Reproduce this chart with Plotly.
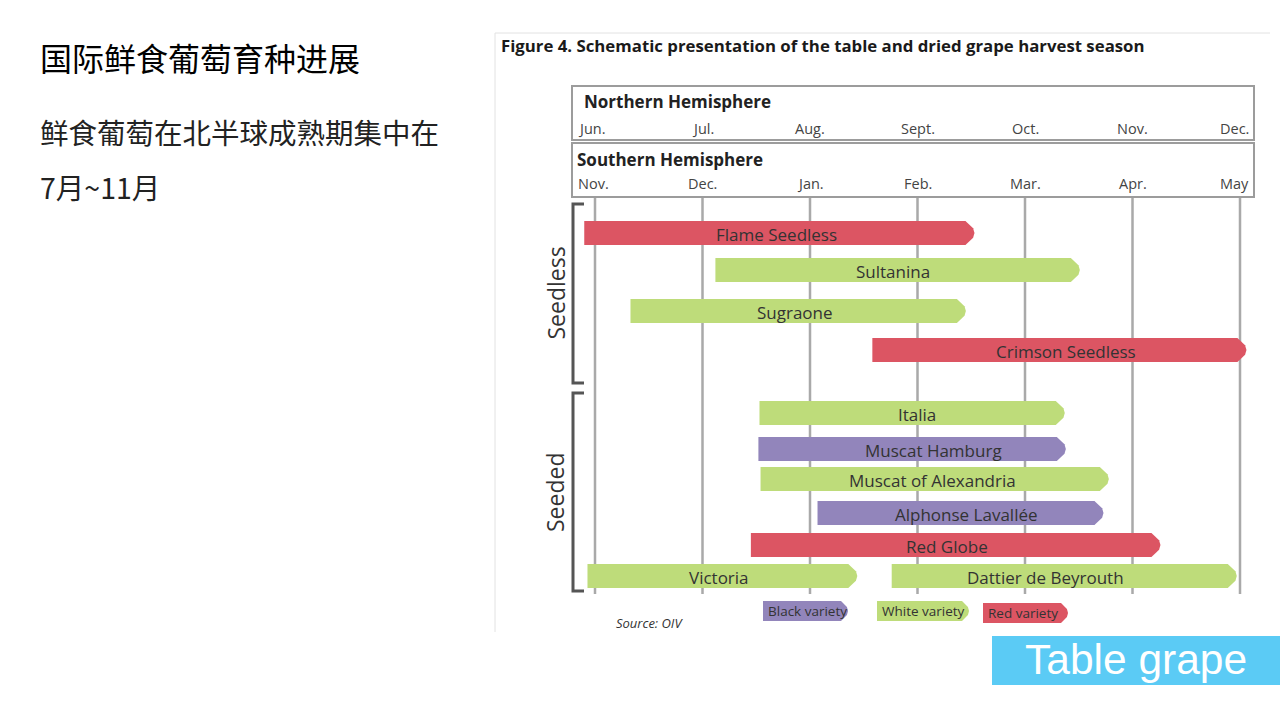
import plotly.graph_objects as go

# ---------------- data ----------------
varieties = ["Flame Seedless", "Sultanina", "Sugraone", "Crimson Seedless",
             "Italia", "Muscat Hamburg", "Muscat of Alexandria", "Alphonse Lavallée",
             "Red Globe", "Victoria", "Dattier de Beyrouth"]
# harvest window, in months after Jun. (NH) / Nov. (SH)
start_month = [-0.10, 1.12, 0.33, 2.58, 1.53, 1.52, 1.54, 2.07, 1.45, -0.07, 2.76]
end_month = [3.53, 4.51, 3.45, 6.06, 4.37, 4.38, 4.78, 4.73, 5.26, 2.44, 5.97]
variety_type = ["Red", "White", "White", "Red", "White", "Black", "White", "Black",
                "Red", "White", "White"]
north_months = ["Jun.", "Jul.", "Aug.", "Sept.", "Oct.", "Nov.", "Dec."]
south_months = ["Nov.", "Dec.", "Jan.", "Feb.", "Mar.", "Apr.", "May"]
legend_types = ["Black", "White", "Red"]
legend_labels = ["Black variety", "White variety", "Red variety"]

# ---------------- layout / style ----------------
W, H = 1280, 720
PX0, PXU = 595.0, 107.5          # pixel of month 0, pixels per month
XR = [(495 - PX0) / PXU, (W - PX0) / PXU]
colors = {"Red": "#DC5563", "White": "#BEDC7A", "Black": "#9285BB"}
lane_y = [233, 270, 311, 350, 413, 449, 479, 513, 545, 576, 576]
label_dx_px = [2, 0, 1, 11, 9, 26, 2, 10, -4, 1, -14]   # label nudge from bar centre
BAR_H = 24
TIP = 9 / PXU
FONT = "Open Sans"
TXT = "#333333"


def px2x(p):
    return (p - PX0) / PXU


def arrow(x0, x1, yc, h, tip):
    xs = [x0, x1 - tip, x1 - tip * 0.15, x1, x1 - tip * 0.15, x1 - tip, x0, x0]
    ys = [yc - h / 2, yc - h / 2, yc - h / 2 * 0.4, yc, yc + h / 2 * 0.4, yc + h / 2, yc + h / 2, yc - h / 2]
    return xs, ys


fig = go.Figure()
annotations = []
shapes = []

# vertical month lines
for i in range(len(north_months)):
    shapes.append(dict(type="line", xref="x", yref="y", x0=i, x1=i, y0=197, y1=594,
                       line=dict(color="#A9A9A9", width=2.5), layer="below"))

# bars
for name, s, e, t, y, dx in zip(varieties, start_month, end_month, variety_type, lane_y, label_dx_px):
    xs, ys = arrow(s, e, y, BAR_H, TIP)
    fig.add_trace(go.Scatter(x=xs, y=ys, fill="toself", fillcolor=colors[t],
                             mode="lines", line=dict(width=0), hoverinfo="skip",
                             showlegend=False))
    annotations.append(dict(x=(s + e - TIP) / 2 + dx / PXU, y=y + 1, xref="x", yref="y", text=name,
                            showarrow=False, font=dict(family=FONT, size=17, color=TXT)))

# legend chips
leg_px = [(763, 848, 611), (877, 969, 611), (983, 1068, 613)]
for t, lab, (a, b, yc) in zip(legend_types, legend_labels, leg_px):
    xs, ys = arrow(px2x(a), px2x(b), yc, 20, 7 / PXU)
    fig.add_trace(go.Scatter(x=xs, y=ys, fill="toself", fillcolor=colors[t],
                             mode="lines", line=dict(width=0), hoverinfo="skip",
                             showlegend=False))
    annotations.append(dict(x=px2x(a + 3), y=yc, xref="x", yref="y", text=lab,
                            xanchor="left", showarrow=False,
                            font=dict(family=FONT, size=13.5, color=TXT)))

# header boxes
for (y0, y1, title, months, ty, my) in [(86, 140, "Northern Hemisphere", north_months, 101, 128),
                                        (143, 197, "Southern Hemisphere", south_months, 159, 183)]:
    shapes.append(dict(type="rect", xref="x", yref="y", x0=px2x(572), x1=px2x(1254),
                       y0=y0, y1=y1, line=dict(color="#9C9C9C", width=2),
                       fillcolor="rgba(0,0,0,0)"))
    annotations.append(dict(x=px2x(582 if title.startswith("N") else 575), y=ty, xref="x", yref="y",
                            text="<b>" + title + "</b>", xanchor="left", showarrow=False,
                            font=dict(family=FONT, size=17, color="#222222")))
    n = len(months)
    for i, m in enumerate(months):
        if i == 0:
            xa, xx = "left", px2x(576)
        elif i == n - 1:
            xa, xx = "right", px2x(1251)
        else:
            xa, xx = "center", i
        annotations.append(dict(x=xx, y=my, xref="x", yref="y", text=m, xanchor=xa,
                                showarrow=False, font=dict(family=FONT, size=14.5, color="#444444")))

# brackets
for (y0, y1, lab) in [(204, 383, "Seedless"), (393, 591, "Seeded")]:
    xa, xb = px2x(573), px2x(584)
    shapes.append(dict(type="path", xref="x", yref="y",
                       path=f"M {xb},{y0} L {xa},{y0} L {xa},{y1} L {xb},{y1}",
                       line=dict(color="#555555", width=3)))
    annotations.append(dict(x=px2x(555), y=(y0 + y1) / 2, xref="x", yref="y", text=lab,
                            textangle=-90, showarrow=False,
                            font=dict(family=FONT, size=23, color=TXT)))

# embedded-figure frame
shapes.append(dict(type="line", xref="paper", yref="y", x0=495 / W, x1=1270 / W, y0=33, y1=33,
                   line=dict(color="#E2E2E2", width=1)))
shapes.append(dict(type="line", xref="paper", yref="y", x0=495 / W, x1=495 / W, y0=33, y1=632,
                   line=dict(color="#E2E2E2", width=1)))

annotations.append(dict(x=499 / W, y=45, xref="paper", yref="y",
                        text="<b>Figure 4. Schematic presentation of the table and dried grape harvest season</b>",
                        xanchor="left", showarrow=False,
                        font=dict(family=FONT, size=16.8, color="#1a1a1a")))
annotations.append(dict(x=px2x(614), y=623, xref="x", yref="y", text="<i>Source: OIV</i>",
                        xanchor="left", showarrow=False,
                        font=dict(family=FONT, size=13, color="#333333")))

# left-side slide text
annotations.append(dict(x=38 / W, y=57, xref="paper", yref="y", text="国际鲜食葡萄育种进展",
                        xanchor="left", showarrow=False,
                        font=dict(family="Noto Sans CJK SC", size=32, color="#000000")))
annotations.append(dict(x=38 / W, y=131, xref="paper", yref="y", text="鲜食葡萄在北半球成熟期集中在",
                        xanchor="left", showarrow=False,
                        font=dict(family="Noto Sans CJK SC", size=28.5, color="#222222")))
annotations.append(dict(x=38 / W, y=186, xref="paper", yref="y", text="7月~11月",
                        xanchor="left", showarrow=False,
                        font=dict(family="Noto Sans CJK SC", size=28.5, color="#222222")))

# Table grape badge
shapes.append(dict(type="rect", xref="paper", yref="y", x0=992 / W, x1=1, y0=636, y1=685,
                   fillcolor="#5BCBF5", line=dict(width=0)))
annotations.append(dict(x=1023 / W, y=659, xref="paper", yref="y", text="Table grape",
                        xanchor="left", showarrow=False,
                        font=dict(family="Liberation Sans", size=42.5, color="#FFFFFF")))

fig.update_layout(
    width=W, height=H, margin=dict(l=0, r=0, t=0, b=0),
    paper_bgcolor="white", plot_bgcolor="white",
    xaxis=dict(domain=[495 / W, 1], range=XR, visible=False, fixedrange=True),
    yaxis=dict(domain=[0, 1], range=[H, 0], visible=False, fixedrange=True),
    shapes=shapes, annotations=annotations, showlegend=False,
)

fig.write_html("out.html", config={"displayModeBar": False},
               post_script="document.body.style.margin='0';document.body.style.overflow='hidden';")
